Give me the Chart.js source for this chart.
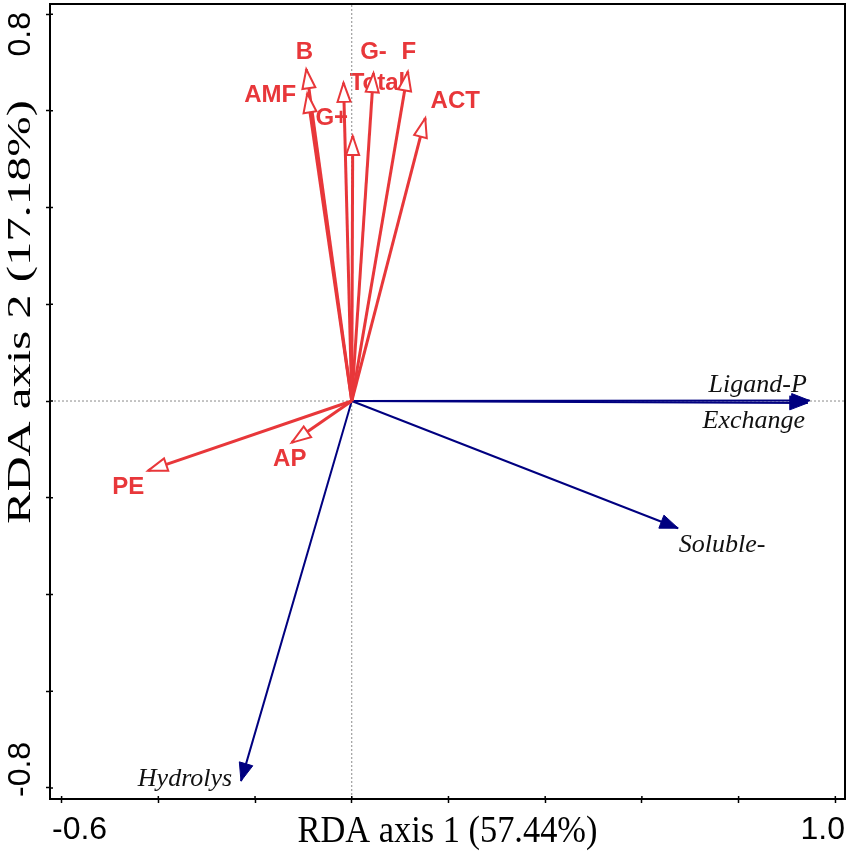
<!DOCTYPE html>
<html>
<head>
<meta charset="utf-8">
<script src="https://cdn.jsdelivr.net/npm/chart.js@4.4.1/dist/chart.umd.min.js"></script>
<style>
  html, body { margin: 0; padding: 0; background: #ffffff; }
  #wrap { width: 851px; height: 855px; }
</style>
</head>
<body>
<div id="wrap"><canvas id="c" width="851" height="855"></canvas></div>
<script>
// ---------------- data ----------------
const xRange = [-0.624, 1.020];
const yRange = [-0.823, 0.821];
const xTicks = [-0.6, -0.4, -0.2, 0, 0.2, 0.4, 0.6, 0.8, 1.0];
const yTicks = [-0.8, -0.6, -0.4, -0.2, 0, 0.2, 0.4, 0.6, 0.8];
const xTickLabels = ['-0.6', '1.0'];
const yTickLabels = ['-0.8', '0.8'];
const xTitle = 'RDA axis 1 (57.44%)';
const yTitle = 'RDA axis 2 (17.18%)';

// response (microbial) arrows - red
const redNames = ['B', 'AMF', 'G-', 'G+', 'Total', 'F', 'ACT', 'PE', 'AP'];
const redX = [-0.094, -0.092, -0.017, 0.002, 0.045, 0.116, 0.152, -0.421, -0.124];
const redY = [0.686, 0.636, 0.658, 0.548, 0.678, 0.681, 0.585, -0.144, -0.086];

// explanatory (P fraction) arrows - blue
const blueNames = ['Ligand-P', 'Exchange', 'Soluble-', 'Hydrolys'];
const blueX = [0.947, 0.943, 0.675, -0.229];
const blueY = [0.001, -0.004, -0.263, -0.786];

// ---------------- style ----------------
const RED = '#E8373A';
const BLUE = '#000080';
// label offsets (pixels from arrow tip to label centre)
const labelOffsets = {
  'B': [-2, -17], 'AMF': [-37, 2], 'G-': [30, -30], 'G+': [-21, -18],
  'Total': [4, 10], 'F': [1, -19], 'ACT': [30, -17], 'PE': [-20, 17], 'AP': [-2, 17],
  'Ligand-P': [-52, -15], 'Exchange': [-54, 18], 'Soluble-': [44, 17], 'Hydrolys': [-56, -2]
};

function arrowDataset(x, y, color, width, order) {
  return {
    data: [{x: 0, y: 0}, {x: x, y: y}],
    showLine: true, borderColor: color, borderWidth: width,
    pointRadius: 0, pointHoverRadius: 0, fill: false, order: order
  };
}

const datasets = [];
redNames.forEach((n, i) => datasets.push(arrowDataset(redX[i], redY[i], RED, 3, 1)));
blueNames.forEach((n, i) => datasets.push(arrowDataset(blueX[i], blueY[i], BLUE, 2, 2)));
// zero reference lines
datasets.push({data: [{x: 0, y: yRange[0]}, {x: 0, y: yRange[1]}], showLine: true,
  borderColor: '#8a8a8a', borderWidth: 1, borderDash: [2, 2], pointRadius: 0, order: 10});
datasets.push({data: [{x: xRange[0], y: 0}, {x: xRange[1], y: 0}], showLine: true,
  borderColor: '#8a8a8a', borderWidth: 1, borderDash: [2, 2], pointRadius: 0, order: 10});

function drawHead(ctx, ox, oy, tx, ty, len, half, fill, stroke, lw) {
  const a = Math.atan2(ty - oy, tx - ox);
  const bx = tx - len * Math.cos(a), by = ty - len * Math.sin(a);
  const px = -Math.sin(a) * half, py = Math.cos(a) * half;
  ctx.beginPath();
  ctx.moveTo(tx, ty);
  ctx.lineTo(bx + px, by + py);
  ctx.lineTo(bx - px, by - py);
  ctx.closePath();
  if (fill) { ctx.fillStyle = fill; ctx.fill(); }
  if (stroke) { ctx.strokeStyle = stroke; ctx.lineWidth = lw; ctx.lineJoin = 'miter'; ctx.stroke(); }
}

const biplotPlugin = {
  id: 'biplot',
  beforeDatasetsDraw(chart) {
    const ctx = chart.ctx, xs = chart.scales.x, ys = chart.scales.y;
    ctx.save();
    ctx.textAlign = 'center';
    ctx.textBaseline = 'middle';
    ctx.fillStyle = RED;
    ctx.font = 'bold 24px "Liberation Sans", Arial, sans-serif';
    redNames.forEach((n, i) => {
      const o = labelOffsets[n];
      ctx.fillText(n, xs.getPixelForValue(redX[i]) + o[0], ys.getPixelForValue(redY[i]) + o[1]);
    });
    ctx.fillStyle = '#111111';
    ctx.font = 'italic 26px "Liberation Serif", "Times New Roman", serif';
    blueNames.forEach((n, i) => {
      const o = labelOffsets[n];
      ctx.fillText(n, xs.getPixelForValue(blueX[i]) + o[0], ys.getPixelForValue(blueY[i]) + o[1]);
    });
    ctx.restore();
  },
  afterDatasetsDraw(chart) {
    const ctx = chart.ctx, xs = chart.scales.x, ys = chart.scales.y;
    const ox = xs.getPixelForValue(0), oy = ys.getPixelForValue(0);
    ctx.save();
    blueNames.forEach((n, i) => {
      drawHead(ctx, ox, oy, xs.getPixelForValue(blueX[i]), ys.getPixelForValue(blueY[i]), 18, 7, BLUE, BLUE, 1);
    });
    redNames.forEach((n, i) => {
      drawHead(ctx, ox, oy, xs.getPixelForValue(redX[i]), ys.getPixelForValue(redY[i]), 19, 6.5, '#ffffff', RED, 2);
    });
    ctx.restore();
  },
  afterDraw(chart) {
    const ctx = chart.ctx, a = chart.chartArea;
    ctx.save();
    // frame
    ctx.strokeStyle = '#000';
    ctx.lineWidth = 2;
    ctx.strokeRect(a.left, a.top, a.right - a.left, a.bottom - a.top);
    // inner part of tick marks
    ctx.lineWidth = 1.5;
    ctx.beginPath();
    xTicks.forEach(v => { const px = chart.scales.x.getPixelForValue(v); ctx.moveTo(px, a.bottom); ctx.lineTo(px, a.bottom - 3); });
    yTicks.forEach(v => { const py = chart.scales.y.getPixelForValue(v); ctx.moveTo(a.left, py); ctx.lineTo(a.left + 3, py); });
    ctx.stroke();
    // tick labels
    ctx.fillStyle = '#000';
    ctx.font = '32px "Liberation Sans", Arial, sans-serif';
    ctx.textBaseline = 'middle';
    ctx.textAlign = 'left';
    ctx.fillText(xTickLabels[0], a.left + 2, 830);
    ctx.textAlign = 'right';
    ctx.fillText(xTickLabels[1], a.right, 830);
    ctx.save();
    ctx.translate(21, a.bottom - 2);
    ctx.rotate(-Math.PI / 2);
    ctx.textAlign = 'left';
    ctx.fillText(yTickLabels[0], 0, 0);
    ctx.restore();
    ctx.save();
    ctx.translate(21, a.top + 8);
    ctx.rotate(-Math.PI / 2);
    ctx.textAlign = 'right';
    ctx.fillText(yTickLabels[1], 0, 0);
    ctx.restore();
    // axis titles (narrow serif)
    ctx.font = '38px "Liberation Serif", "Times New Roman", serif';
    ctx.textAlign = 'center';
    ctx.save();
    ctx.translate((a.left + a.right) / 2, 832);
    ctx.scale(0.905, 1);
    ctx.fillText(xTitle, 0, 0);
    ctx.restore();
    ctx.font = '34px "Liberation Serif", "Times New Roman", serif';
    ctx.save();
    ctx.translate(21, 312);
    ctx.rotate(-Math.PI / 2);
    ctx.scale(1.43, 1);
    ctx.fillText(yTitle, 0, 0);
    ctx.restore();
    ctx.restore();
  }
};

new Chart(document.getElementById('c'), {
  type: 'scatter',
  data: { datasets: datasets },
  options: {
    responsive: false,
    animation: false,
    devicePixelRatio: 1,
    layout: { padding: { left: 0, right: 6, top: 4, bottom: 0 } },
    plugins: { legend: { display: false }, tooltip: { enabled: false } },
    scales: {
      x: {
        type: 'linear', min: xRange[0], max: xRange[1],
        afterBuildTicks: s => { s.ticks = xTicks.map(v => ({value: v})); },
        afterFit: s => { s.height = 56; },
        ticks: { display: false },
        grid: { drawOnChartArea: false, drawTicks: true, tickLength: 4, tickColor: '#000', tickWidth: 1.5 },
        border: { display: false },
        title: { display: false }
      },
      y: {
        type: 'linear', min: yRange[0], max: yRange[1],
        afterBuildTicks: s => { s.ticks = yTicks.map(v => ({value: v})); },
        afterFit: s => { s.width = 50; },
        ticks: { display: false },
        grid: { drawOnChartArea: false, drawTicks: true, tickLength: 4, tickColor: '#000', tickWidth: 1.5 },
        border: { display: false },
        title: { display: false }
      }
    }
  },
  plugins: [biplotPlugin]
});
</script>
</body>
</html>
